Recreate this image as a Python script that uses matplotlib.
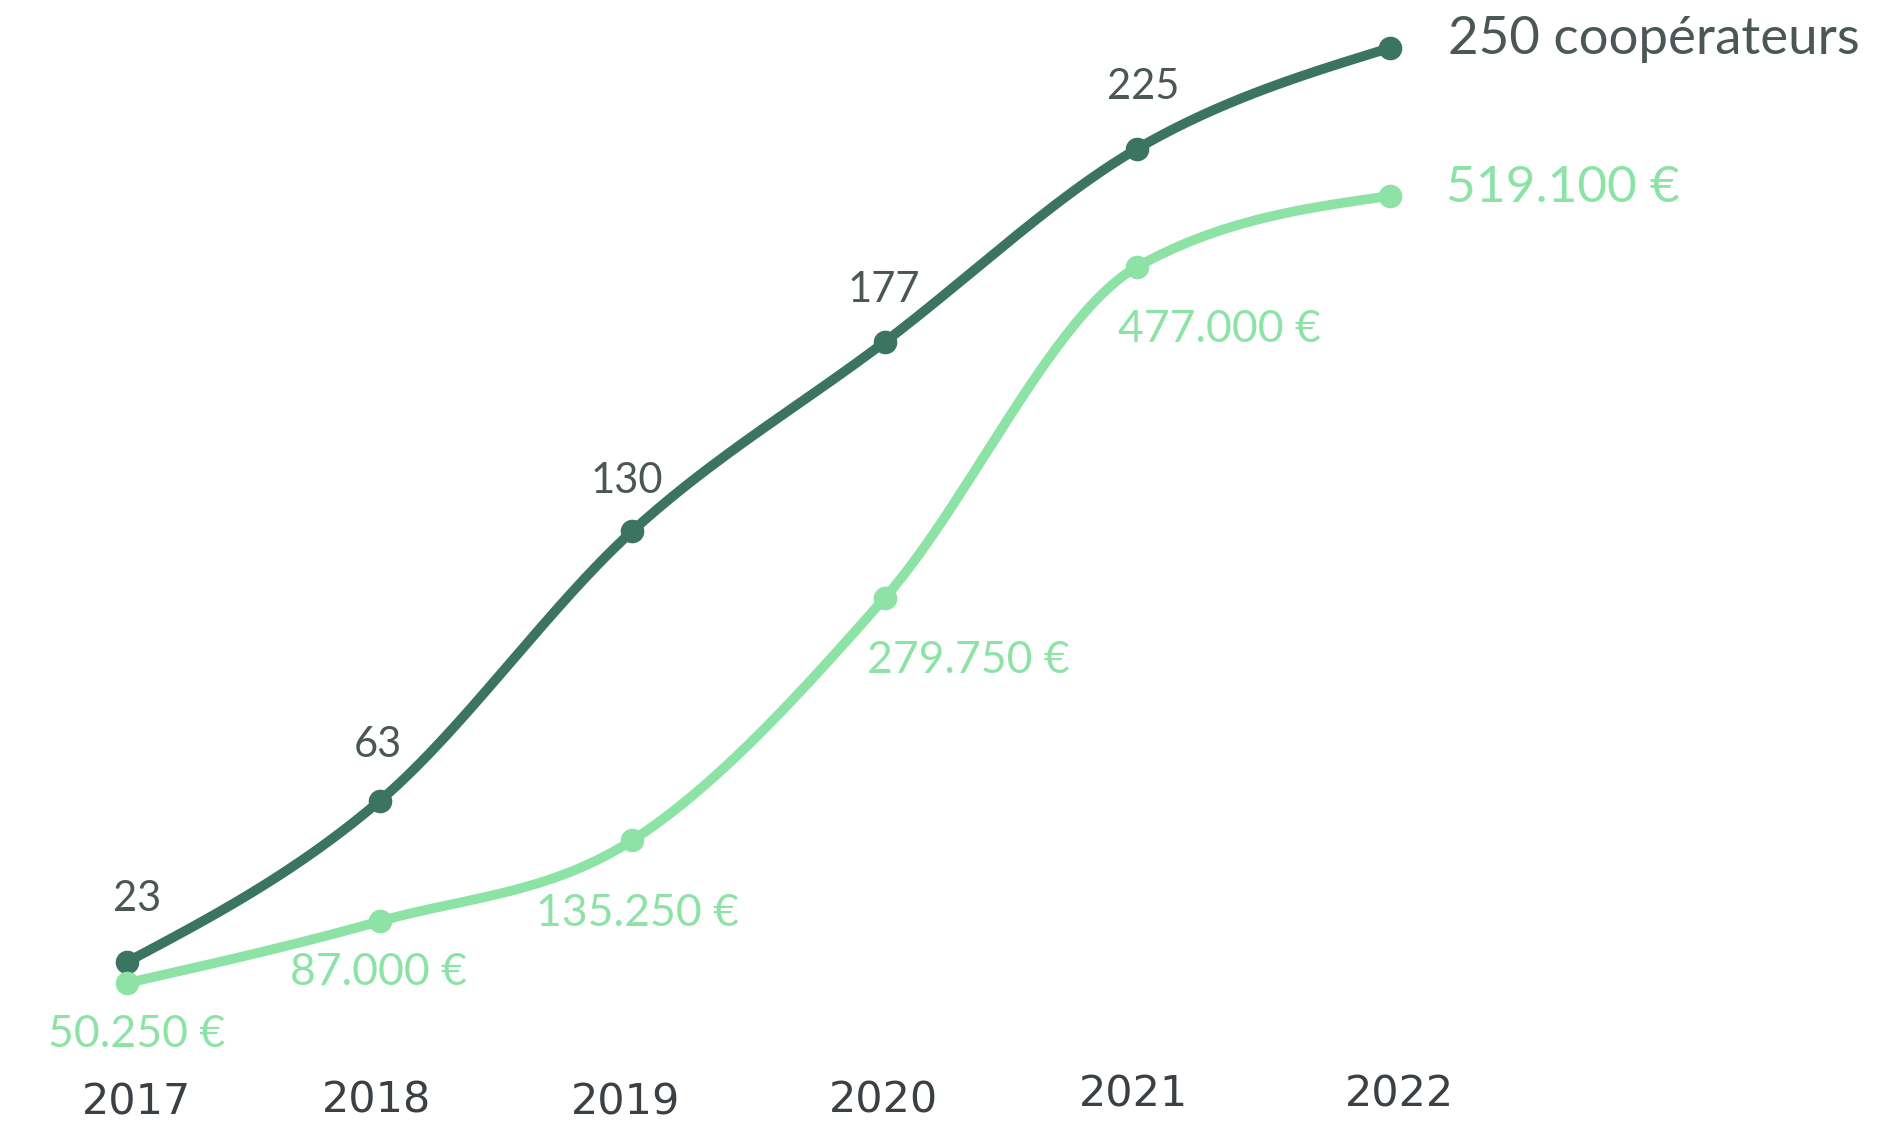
import numpy as np
import matplotlib
matplotlib.use('Agg')
import matplotlib.pyplot as plt

# donnees
annees = [2017, 2018, 2019, 2020, 2021, 2022]
cooperateurs = [23, 63, 130, 177, 225, 250]
montants = [50250, 87000, 135250, 279750, 477000, 519100]
labels_coop = ['23', '63', '130', '177', '225']
labels_montant = ['50.250 €', '87.000 €', '135.250 €', '279.750 €', '477.000 €']
fin_coop = '250 coopérateurs'
fin_montant = '519.100 €'

vert_fonce = '#3b7461'
vert_clair = '#8de3a5'
gris_texte = '#4b5757'
gris_annee = '#3b4045'


def monotone(x, y, n=60):
    # courbe monotone (comme d3.curveMonotoneX)
    x = np.asarray(x, float)
    y = np.asarray(y, float)
    h = np.diff(x)
    s = np.diff(y) / h
    t = np.zeros(len(x))
    for i in range(1, len(x) - 1):
        p = (s[i - 1] * h[i] + s[i] * h[i - 1]) / (h[i - 1] + h[i])
        t[i] = (np.sign(s[i - 1]) + np.sign(s[i])) * min(abs(s[i - 1]), abs(s[i]), 0.5 * abs(p))
    t[0] = (3 * s[0] - t[1]) / 2
    t[-1] = (3 * s[-1] - t[-2]) / 2
    xs, ys = [], []
    for i in range(len(x) - 1):
        u = np.linspace(0, 1, n)
        h00 = 2 * u**3 - 3 * u**2 + 1
        h10 = u**3 - 2 * u**2 + u
        h01 = -2 * u**3 + 3 * u**2
        h11 = u**3 - u**2
        xs.append(x[i] + u * h[i])
        ys.append(h00 * y[i] + h10 * h[i] * t[i] + h01 * y[i + 1] + h11 * h[i] * t[i + 1])
    return np.concatenate(xs), np.concatenate(ys)


fig = plt.figure(figsize=(18.96, 11.39), dpi=100)
ax = fig.add_axes([0, 0, 1, 1])
ax2 = ax.twinx()

ax.set_xlim(2016.497, 2024.003)
ax.set_ylim(-20.96, 261.9)
ax2.set_ylim(-42685, 635857)

xc, yc = monotone(annees, cooperateurs)
ax.plot(xc, yc, color=vert_fonce, lw=7, solid_capstyle='round')
ax.plot(annees, cooperateurs, 'o', color=vert_fonce, ms=16)

xm, ym = monotone(annees, montants)
ax2.plot(xm, ym, color=vert_clair, lw=7, solid_capstyle='round')
ax2.plot(annees, montants, 'o', color=vert_clair, ms=16)

ax.axis('off')
ax2.axis('off')

decal_coop = [(7, 45), (-1, 40), (-4, 36), (-1, 37), (4, 44)]
for a, v, t, d in zip(annees, cooperateurs, labels_coop, decal_coop):
    ax.annotate(t, xy=(a, v), xytext=d, textcoords='offset points',
                ha='center', va='center', fontsize=30, family='Lato', color=gris_texte)

decal_montant = [(7, -37), (-1, -37), (4, -53), (60, -45), (59, -45)]
for a, v, t, d in zip(annees, montants, labels_montant, decal_montant):
    ax2.annotate(t, xy=(a, v), xytext=d, textcoords='offset points',
                 ha='center', va='center', fontsize=32, family='Lato', color=vert_clair)

ax.annotate(fin_coop, xy=(annees[-1], cooperateurs[-1]), xytext=(42, 6), textcoords='offset points',
            ha='left', va='center', fontsize=38, family='Lato', color=gris_texte)
ax2.annotate(fin_montant, xy=(annees[-1], montants[-1]), xytext=(40, 6), textcoords='offset points',
             ha='left', va='center', fontsize=37, family='Lato', color=vert_clair)

decal_annees = [(7, 26), (-2, 28), (-5, 26), (-1, 28), (-3, 32), (7, 32)]
for a, d in zip(annees, decal_annees):
    ax.annotate(str(a), xy=(a, 0), xycoords=ax.get_xaxis_transform(), xytext=d,
                textcoords='offset points', ha='center', va='center',
                fontsize=31, family='DejaVu Sans', color=gris_annee)

plt.savefig('out.png', dpi=100)
plt.close('all')
